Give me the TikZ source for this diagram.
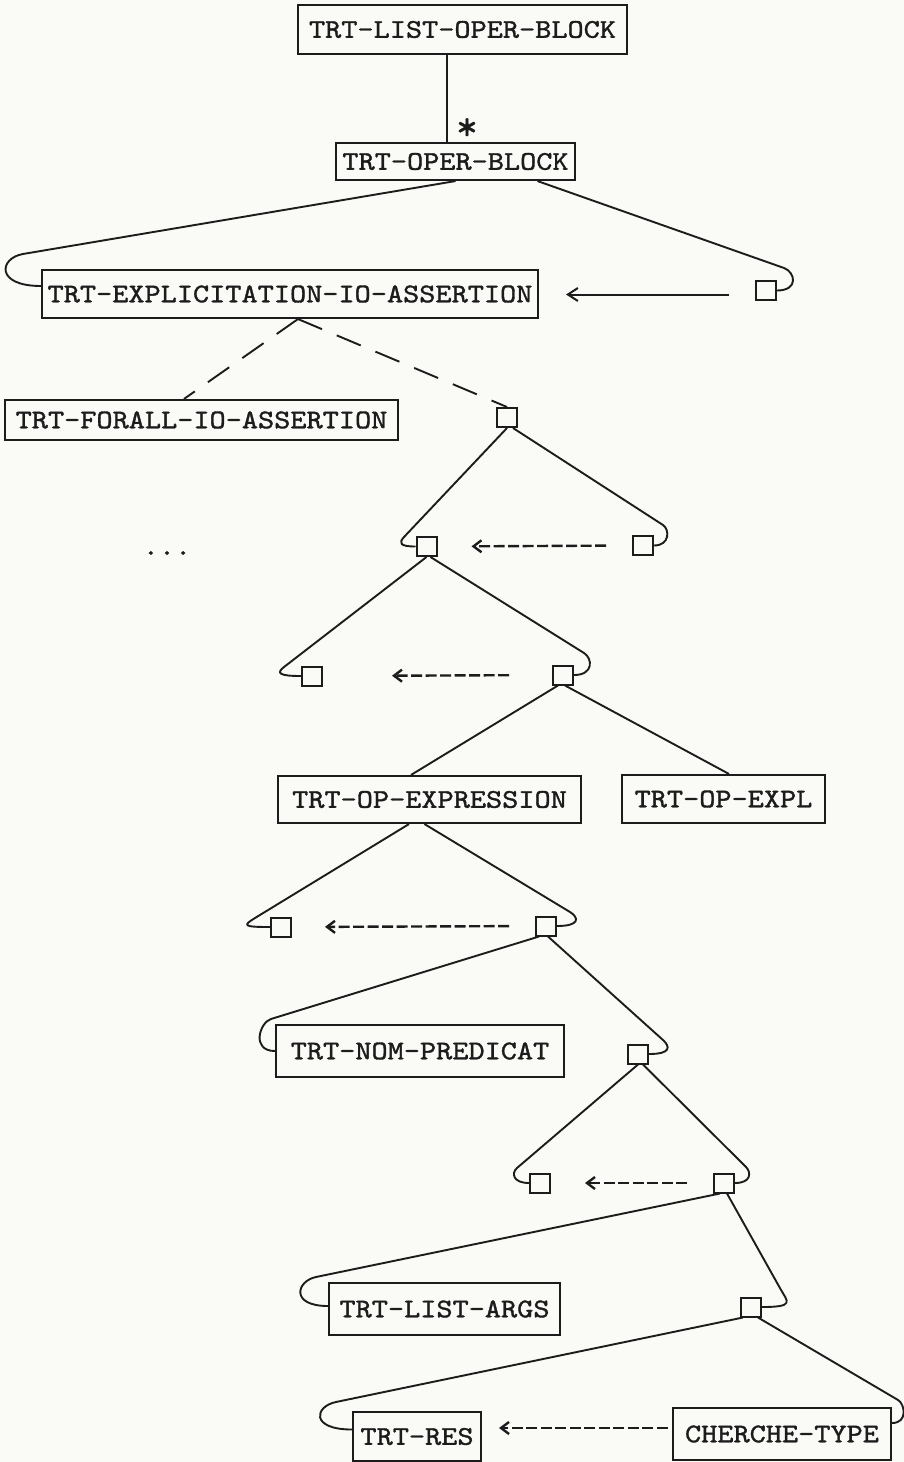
\documentclass[tikz,border=0pt]{standalone}
\usepackage{fontspec}
\usetikzlibrary{arrows.meta,calc}
\definecolor{paper}{RGB}{250,250,247}
\definecolor{ink}{RGB}{28,28,28}
% typewriter lettering: Latin Modern Mono, widened and thickened
\newfontfamily\typewfamily{lmmono10-regular.otf}[FakeBold=1.3, FakeStretch=1.14]
\newfontfamily\starfamily{lmmono10-regular.otf}[FakeBold=0.4]
\newcommand\typewfont[1]{\typewfamily\fontsize{#1}{#1}\selectfont}
\tikzset{
  box/.style={draw=ink, line width=2.1pt, inner sep=0pt, text=ink, font=\typewfont{27}},
  sq/.style={draw=ink, line width=2pt, minimum width=20pt, minimum height=19pt, inner sep=0pt},
  link/.style={draw=ink, line width=1.9pt, line join=round},
  dlink/.style={link, dash pattern=on 26pt off 16pt},
  typed/.style={draw=ink, line width=2.4pt, dash pattern=on 11pt off 3.5pt,
                -{Straight Barb[length=8pt,width=12pt,sep=4pt]}},
  solidarrow/.style={link, line width=2pt, -{Straight Barb[length=10pt,width=13pt]}},
  plain/.style={inner sep=0pt, text=ink, font=\typewfont{27}},
}
\begin{document}
\begin{tikzpicture}[x=1pt, y=-1pt]
\fill[paper] (0,0) rectangle (904,1462);
\useasboundingbox (0,0) rectangle (904,1462);

% boxes and small squares
\node[box, minimum width=329pt, minimum height=49pt] (L0) at (462.5,29.5) {TRT-LIST-OPER-BLOCK};
\node[box, minimum width=239pt, minimum height=37pt] (L1) at (455.5,161.5) {TRT-OPER-BLOCK};
\node[box, minimum width=496pt, minimum height=48pt] (EXPL) at (290,294) {TRT-EXPLICITATION-IO-ASSERTION};
\node[sq] (R1) at (766,290.5) {};
\node[box, minimum width=393pt, minimum height=40pt] (FORALL) at (201.5,420) {TRT-FORALL-IO-ASSERTION};
\node[sq] (A) at (507,417.5) {};
\node[sq] (B) at (426.5,546.5) {};
\node[sq] (C) at (643,545.5) {};
\node[plain] (dots) at (167,553) {...};
\node[sq] (D) at (312,676) {};
\node[sq] (E) at (563,675) {};
\node[box, minimum width=303pt, minimum height=47pt] (OPX) at (429.5,799.5) {TRT-OP-EXPRESSION};
\node[box, minimum width=203pt, minimum height=48pt] (OPL) at (723.5,799) {TRT-OP-EXPL};
\node[sq] (F) at (281,927) {};
\node[sq] (G) at (546,926) {};
\node[box, minimum width=288pt, minimum height=52pt] (NOM) at (420,1051) {TRT-NOM-PREDICAT};
\node[sq] (H) at (638,1054) {};
\node[sq] (I) at (540,1183) {};
\node[sq] (J) at (724,1183) {};
\node[box, minimum width=231pt, minimum height=52pt] (LARGS) at (444.5,1309) {TRT-LIST-ARGS};
\node[sq] (K) at (751,1307) {};
\node[box, minimum width=128pt, minimum height=49pt] (RES) at (417,1436.5) {TRT-RES};
\node[box, minimum width=218pt, minimum height=52pt] (CHT) at (782,1434) {CHERCHE-TYPE};

% repetition mark
\node[inner sep=0pt, anchor=base, text=ink, font=\starfamily\fontsize{42}{42}\selectfont] (star) at (467,140) {*};

% root link
\draw[link] ([xshift=-15.5pt]L0.south) -- ([xshift=-8.5pt]L1.north);

% TRT-OPER-BLOCK children
\draw[link] (L1.south) -- ($(EXPL.west)+(-18,-40)$)
  .. controls +(-23.7,4.1) and +(-46,0) .. ($(EXPL.west)+(0,-8)$);
\draw[link] ($(L1.south)+(82,0)$) -- ($(R1.east)+(7,-22.5)$)
  .. controls +(11.3,4.1) and +(22,0) .. (R1.east);
\draw[solidarrow, shorten <=26pt, shorten >=27pt] ($(R1.west)+(0,4)$) -- ($(EXPL.east)+(0,0.5)$);

% dashed alternatives
\draw[dlink] ($(EXPL.south)+(8,0)$) -- ($(FORALL.north)+(-17.5,0)$);
\draw[dlink] ($(EXPL.south)+(8,0)$) -- (A.north);

% A
\draw[link] (A.south) -- ($(B.west)+(-11.5,-9.5)$)
  .. controls +(-5.4,5.9) and +(-16,0) .. (B.west);
\draw[link] ($(A.south)+(6,0)$) -- ($(C.east)+(9,-20.5)$)
  .. controls +(6.7,4.4) and +(16,0) .. (C.east);
\draw[typed, shorten <=26pt, shorten >=30pt] (C.west) -- (B.east);

% B
\draw[link] (B.south) -- ($(D.west)+(-17,-9)$)
  .. controls +(-7.9,6.2) and +(-22,0) .. (D.west);
\draw[link] ($(B.south)+(4,0)$) -- ($(E.east)+(10,-22)$)
  .. controls +(8.5,5.3) and +(20,0) .. (E.east);
\draw[typed, shorten <=43pt, shorten >=65pt] (E.west) -- (D.east);

% E
\draw[link] ($(E.south)+(-5,0)$) -- ($(OPX.north)+(-18.5,0)$);
\draw[link] ($(E.south)+(2,0)$) -- ($(OPL.north)+(5.5,0)$);

% TRT-OP-EXPRESSION
\draw[link] ($(OPX.south)+(-20.5,0)$) -- ($(F.west)+(-15,-9)$)
  .. controls +(-11.9,7.4) and +(-28,0) .. (F.west);
\draw[link] ($(OPX.south)+(-5,0)$) -- ($(G.east)+(13,-14)$)
  .. controls +(8.5,5.2) and +(24,0) .. (G.east);
\draw[typed, shorten <=26pt, shorten >=29pt] (G.west) -- (F.east);

% G
\draw[link] ($(G.south)+(-7,0)$) -- ($(NOM.west)+(-4,-32)$)
  .. controls +(-11.4,3.6) and +(-24,0) .. (NOM.west);
\draw[link] ($(G.south)+(2,0)$) -- ($(H.east)+(14,-14)$)
  .. controls +(7.4,6.8) and +(22,0) .. (H.east);

% H
\draw[link] (H.south) -- ($(I.west)+(-12,-15)$)
  .. controls +(-6,5.3) and +(-16,0) .. (I.west);
\draw[link] ($(H.south)+(5,0)$) -- ($(J.east)+(11,-16)$)
  .. controls +(5.6,5.7) and +(16,0) .. (J.east);
\draw[typed, shorten <=26pt, shorten >=30pt] (J.west) -- (I.east);

% J
\draw[link] ($(J.south)+(-4,0)$) -- ($(LARGS.west)+(-12,-32)$)
  .. controls +(-19.6,4.1) and +(-38,0) .. ($(LARGS.west)+(0,-3)$);
\draw[link] ($(J.south)+(3,0)$) -- ($(K.east)+(18.5,-18)$)
  .. controls +(6.7,12.3) and +(34,0) .. (K.east);

% K
\draw[link] ($(K.south)+(-8,0)$) -- ($(RES.west)+(-16,-34.5)$)
  .. controls +(-21.5,4.5) and +(-42,0) .. ($(RES.west)+(0,-7)$);
\draw[link] ($(K.south)+(7,0)$) -- ($(CHT.east)+(6,-34)$)
  .. controls +(6.9,4.1) and +(16,0) .. ($(CHT.east)+(0,-11)$);
\draw[typed, shorten <=4pt, shorten >=13pt] ($(CHT.west)+(0,-6)$) -- ($(RES.east)+(0,-8.5)$);
\end{tikzpicture}
\end{document}
